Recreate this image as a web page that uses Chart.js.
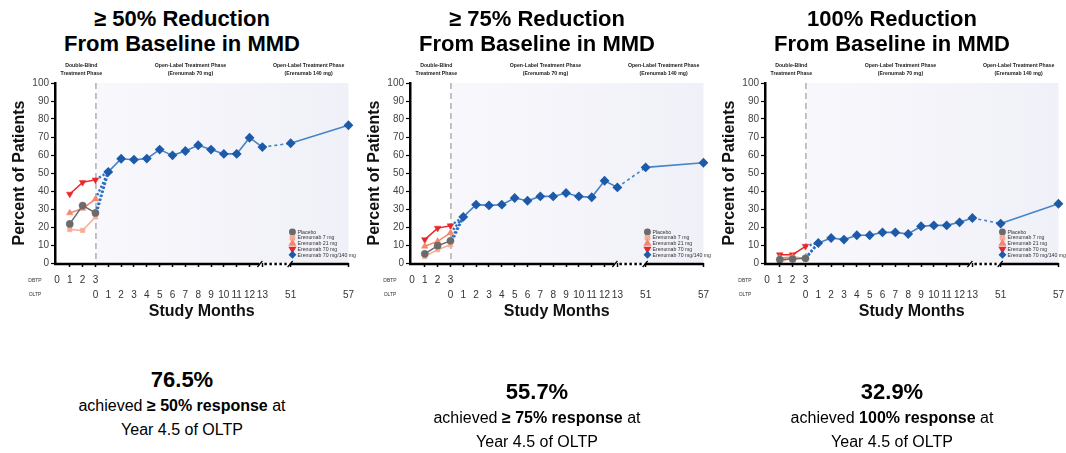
<!DOCTYPE html>
<html>
<head>
<meta charset="utf-8">
<script src="https://cdn.jsdelivr.net/npm/chart.js@4"></script>
<style>
  body { margin: 0; width: 1066px; height: 453px; background: #fff; font-family: "Liberation Sans", Arial, sans-serif; overflow: hidden; }
  .panel { position: absolute; top: 0; width: 364px; height: 453px; }
  .title { position: absolute; left: 0; top: 6px; width: 364px; text-align: center; font-weight: bold; font-size: 22px; line-height: 25px; color: #000; }
  .box { position: absolute; left: 0; top: 60px; }
  .note { position: absolute; left: 0; width: 364px; text-align: center; font-size: 16px; line-height: 24px; color: #000; }
  .note .big { font-weight: bold; font-size: 22px; line-height: 28px; display: block; margin-bottom: 0; }
</style>
</head>
<body>
<div id="root"></div>
<script>
// study months on the two x-axis rows
const dbtpMonths = [1, 2, 3];
const oltpMonths = [1, 2, 3, 4, 5, 6, 7, 8, 9, 10, 11, 12, 13, 51, 57];
const dbtpTickLabels = ['0', '1', '2', '3'];
const oltpTickLabels = ['0', '1', '2', '3', '4', '5', '6', '7', '8', '9', '10', '11', '12', '13', '51', '57'];
const yTicks = [0, 10, 20, 30, 40, 50, 60, 70, 80, 90, 100];

const armNames = ['Placebo', 'Erenumab 7 mg', 'Erenumab 21 mg', 'Erenumab 70 mg'];
const openLabelName = 'Erenumab 70 mg/140 mg';

// >= 50% reduction
const placebo50 = [21.7, 31.9, 27.8];
const e7mg50 = [18.6, 18.1, 25.6];
const e21mg50 = [27.8, 30.3, 35.5];
const e70mg50 = [38.3, 44.8, 46.2];
const openLabel50 = [50.6, 57.9, 57.4, 58.0, 63.0, 59.8, 62.2, 65.4, 63.0, 60.6, 60.6, 69.6, 64.4, 66.5, 76.5];

// >= 75% reduction
const placebo75 = [5.1, 9.6, 12.3];
const e7mg75 = [3.6, 7.4, 10.1];
const e21mg75 = [9.3, 12.0, 16.7];
const e70mg75 = [13.0, 19.4, 20.7];
const openLabel75 = [25.6, 32.4, 32.0, 32.4, 36.1, 34.6, 37.0, 37.0, 38.9, 37.0, 36.5, 45.7, 42.0, 53.1, 55.7];

// 100% reduction
const placebo100 = [1.9, 2.2, 2.6];
const e7mg100 = [0.4, 3.0, 2.5];
const e21mg100 = [2.8, 3.3, 2.7];
const e70mg100 = [4.6, 4.6, 9.3];
const openLabel100 = [11.1, 13.9, 13.0, 15.4, 15.4, 17.0, 17.0, 16.1, 20.4, 20.9, 20.9, 22.6, 25.0, 21.9, 32.9];

const panels = [
  { title: ['≥ 50% Reduction', 'From Baseline in MMD'], arms: [placebo50, e7mg50, e21mg50, e70mg50], ol: openLabel50,
    big: '76.5%', resp: '≥ 50% response', noteTop: 366 },
  { title: ['≥ 75% Reduction', 'From Baseline in MMD'], arms: [placebo75, e7mg75, e21mg75, e70mg75], ol: openLabel75,
    big: '55.7%', resp: '≥ 75% response', noteTop: 378 },
  { title: ['100% Reduction', 'From Baseline in MMD'], arms: [placebo100, e7mg100, e21mg100, e70mg100], ol: openLabel100,
    big: '32.9%', resp: '100% response', noteTop: 378 }
];

const armColors = ['#6b6b6b', '#f6ac97', '#f3866b', '#e8272b'];
const armStyles = [['circle', 0, 3.6], ['rect', 0, 3.2], ['triangle', 0, 3.8], ['triangle', 180, 3.8]];
const blueLine = '#4684c9';
const blueMark = '#1d5ba8';

// broken axis: OLTP 13 -> 51 squeezed, then 51 -> 57
function olPos(k) {
  if (k <= 13) return 3 + k;
  if (k <= 51) return 16 + 2.2 * (k - 13) / 38;
  return 18.2 + (k - 51) * 0.75;
}

const tickRows = dbtpTickLabels.map((l, m) => ({ value: m, db: l, ol: '' }));
oltpTickLabels.forEach(l => {
  const v = olPos(+l);
  const hit = tickRows.find(t => Math.abs(t.value - v) < 1e-6);
  if (hit) hit.ol = l; else tickRows.push({ value: v, db: '', ol: l });
});

const phasePlugin = {
  id: 'phases',
  beforeDatasetsDraw(chart) {
    const { ctx, chartArea: a, scales: { x } } = chart;
    const x3 = x.getPixelForValue(3);
    ctx.save();
    const g = ctx.createLinearGradient(x3, 0, a.right, 0);
    g.addColorStop(0, '#f8f8fc');
    g.addColorStop(1, '#f0f0f8');
    ctx.fillStyle = g;
    ctx.fillRect(x3, a.top, a.right - x3, a.bottom - a.top);
    ctx.strokeStyle = '#8a8a8a';
    ctx.lineWidth = 1;
    ctx.setLineDash([6, 4]);
    ctx.beginPath();
    ctx.moveTo(x3 + 0.5, a.top);
    ctx.lineTo(x3 + 0.5, a.bottom);
    ctx.stroke();
    ctx.restore();
  },
  afterDraw(chart) {
    const { ctx, chartArea: a, scales: { x } } = chart;
    ctx.save();
    // phase headings
    ctx.fillStyle = '#222';
    ctx.font = 'bold 5.2px "Liberation Sans", Arial, sans-serif';
    ctx.textAlign = 'center';
    ctx.textBaseline = 'middle';
    [[1.9, 'Double-Blind', 'Treatment Phase'],
     [10.4, 'Open-Label Treatment Phase', '(Erenumab 70 mg)'],
     [19.6, 'Open-Label Treatment Phase', '(Erenumab 140 mg)']].forEach(([v, l1, l2]) => {
      const px = x.getPixelForValue(v);
      ctx.fillText(l1, px, a.top - 17);
      ctx.fillText(l2, px, a.top - 9);
    });
    // row names of the two x-axis rows
    ctx.fillStyle = '#333';
    ctx.font = '5px "Liberation Sans", Arial, sans-serif';
    ctx.fillText('DBTP', 35, x.top + 18);
    ctx.fillText('OLTP', 35, x.top + 32);

    // x axis line with a break between 13 and 51
    const y0 = a.bottom + 1;
    const b1 = x.getPixelForValue(olPos(13)) - 3;
    const b2 = x.getPixelForValue(olPos(51));
    ctx.strokeStyle = '#000';
    ctx.lineWidth = 2.5;
    ctx.beginPath();
    ctx.moveTo(a.left - 1, y0); ctx.lineTo(b1, y0);
    ctx.moveTo(b2, y0); ctx.lineTo(a.right, y0);
    ctx.stroke();
    ctx.lineWidth = 1.2;
    ctx.beginPath();
    ctx.moveTo(b1 - 2, y0 + 3); ctx.lineTo(b1 + 3, y0 - 3);
    ctx.moveTo(b2 - 3, y0 + 3); ctx.lineTo(b2 + 2, y0 - 3);
    ctx.stroke();
    ctx.lineWidth = 2.5;
    ctx.setLineDash([2.5, 2.5]);
    ctx.beginPath();
    ctx.moveTo(b1 + 5, y0); ctx.lineTo(b2 - 4, y0);
    ctx.stroke();
    ctx.setLineDash([]);

    // legend in lower right of the plot
    const items = chart.data.datasets.filter(d => d.label);
    const lx = a.right - 56;
    ctx.font = '5.2px "Liberation Sans", Arial, sans-serif';
    ctx.textAlign = 'left';
    items.forEach((d, i) => {
      const ly = a.bottom - 31 + i * 5.7;
      ctx.fillStyle = d.pointBackgroundColor || d.backgroundColor;
      ctx.strokeStyle = d.pointBackgroundColor || d.backgroundColor;
      Chart.helpers.drawPoint(ctx, { pointStyle: d.pointStyle, rotation: d.pointRotation || 0, radius: 2.2, borderWidth: 0.5 }, lx, ly);
      ctx.fillStyle = '#333';
      ctx.fillText(d.label, lx + 5, ly + 0.3);
    });
    ctx.restore();
  }
};

function buildChart(canvas, p) {
  const datasets = [];
  p.arms.forEach((vals, i) => {
    datasets.push({
      label: armNames[i],
      data: dbtpMonths.map((m, j) => ({ x: m, y: vals[j] })),
      borderColor: armColors[i],
      backgroundColor: armColors[i],
      borderWidth: 1.5,
      pointStyle: armStyles[i][0],
      pointRotation: armStyles[i][1],
      pointRadius: armStyles[i][2],
      pointBorderWidth: 0.5,
      clip: false
    });
  });
  datasets.push({
    label: openLabelName,
    data: oltpMonths.map((k, j) => ({ x: olPos(k), y: p.ol[j] })),
    borderColor: blueLine,
    backgroundColor: blueMark,
    pointBackgroundColor: blueMark,
    pointBorderColor: blueMark,
    borderWidth: 1.6,
    pointStyle: 'rectRot',
    pointRadius: 3.8,
    segment: { borderDash: c => (c.p0DataIndex === oltpMonths.indexOf(13) ? [3, 3] : undefined) },
    clip: false
  });
  // dotted hand-over from each arm's month 3 to open-label month 1
  p.arms.forEach(vals => {
    datasets.push({
      data: [{ x: 3, y: vals[2] }, { x: olPos(oltpMonths[0]), y: p.ol[0] }],
      borderColor: '#2f6fc0',
      borderWidth: 2.4,
      borderDash: [2.2, 2],
      pointRadius: 0,
      clip: false
    });
  });

  return new Chart(canvas, {
    type: 'line',
    data: { datasets },
    plugins: [phasePlugin],
    options: {
      responsive: false,
      animation: false,
      layout: { padding: { left: 0, right: 8, top: 23, bottom: 0 }, autoPadding: false },
      plugins: { legend: { display: false }, tooltip: { enabled: false } },
      scales: {
        x: {
          type: 'linear',
          min: -0.15,
          max: 22.7,
          afterBuildTicks: s => { s.ticks = tickRows.map(t => ({ value: t.value })); },
          afterFit: s => { s.height = 59; },
          border: { display: false },
          grid: {
            drawOnChartArea: false,
            tickLength: 4,
            tickWidth: 1.5,
            tickColor: c => (c.index === 0 ? 'rgba(0,0,0,0)' : '#000')
          },
          ticks: {
            autoSkip: false,
            maxRotation: 0,
            padding: 6,
            color: '#333',
            font: { family: '"Liberation Sans", Arial, sans-serif', size: 10, lineHeight: 1.5 },
            callback: (v, i) => [tickRows[i].db, tickRows[i].ol]
          },
          title: {
            display: true,
            text: 'Study Months',
            color: '#111',
            font: { family: '"Liberation Sans", Arial, sans-serif', size: 16, weight: 'bold' },
            padding: { top: 0, bottom: 1 }
          }
        },
        y: {
          min: 0,
          max: 100,
          afterBuildTicks: s => { s.ticks = yTicks.map(v => ({ value: v })); },
          afterFit: s => { s.width = 55; },
          border: { display: true, color: '#000', width: 2.5 },
          grid: { drawOnChartArea: false, tickLength: 4, tickWidth: 1.2, tickColor: '#000' },
          ticks: {
            padding: 2,
            color: '#444',
            font: { family: '"Liberation Sans", Arial, sans-serif', size: 10 }
          },
          title: {
            display: true,
            text: 'Percent of Patients',
            color: '#111',
            font: { family: '"Liberation Sans", Arial, sans-serif', size: 16, weight: 'bold' },
            padding: { top: 10, bottom: 0 }
          }
        }
      }
    }
  });
}

const root = document.getElementById('root');
panels.forEach((p, i) => {
  const el = document.createElement('div');
  el.className = 'panel';
  el.style.left = (i * 355) + 'px';
  el.innerHTML =
    '<div class="title">' + p.title[0] + '<br>' + p.title[1] + '</div>' +
    '<div class="box"><canvas width="360" height="262"></canvas></div>' +
    '<div class="note" style="top:' + p.noteTop + 'px"><span class="big">' + p.big + '</span>' +
    'achieved <b>' + p.resp + '</b> at<br>Year 4.5 of OLTP</div>';
  root.appendChild(el);
  buildChart(el.querySelector('canvas'), p);
});
</script>
</body>
</html>
